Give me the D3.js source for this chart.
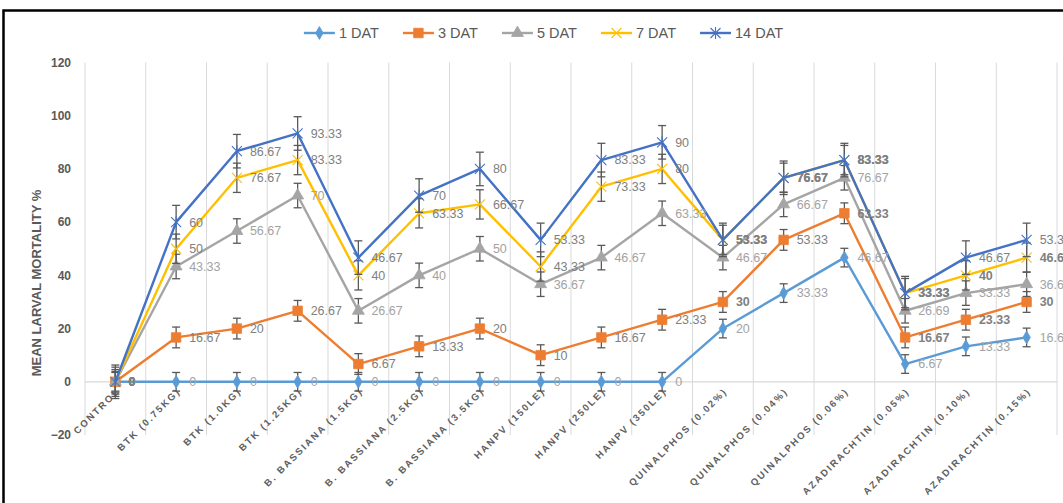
<!DOCTYPE html>
<html>
<head>
<meta charset="utf-8">
<script src="https://cdn.jsdelivr.net/npm/d3@7"></script>
<style>
  html, body { margin: 0; padding: 0; background: #fff; }
  svg { display: block; font-family: "Liberation Sans", Arial, sans-serif; }
</style>
</head>
<body>
<svg id="chart" width="1063" height="503"></svg>
<script>
// Treatments on the x axis
const categories = [
  "CONTROL", "BTK (0.75KG)", "BTK (1.0KG)", "BTK (1.25KG)",
  "B. BASSIANA (1.5KG)", "B. BASSIANA (2.5KG)", "B. BASSIANA (3.5KG)",
  "HANPV (150LE)", "HANPV (250LE)", "HANPV (350LE)",
  "QUINALPHOS (0.02%)", "QUINALPHOS (0.04%)", "QUINALPHOS (0.06%)",
  "AZADIRACHTIN (0.05%)", "AZADIRACHTIN (0.10%)", "AZADIRACHTIN (0.15%)"
];

// Mean larval mortality (%) per days after treatment
const seriesNames = ["1 DAT", "3 DAT", "5 DAT", "7 DAT", "14 DAT"];
const dat1  = [0, 0, 0, 0, 0, 0, 0, 0, 0, 0, 20, 33.33, 46.67, 6.67, 13.33, 16.67];
const dat3  = [0, 16.67, 20, 26.67, 6.67, 13.33, 20, 10, 16.67, 23.33, 30, 53.33, 63.33, 16.67, 23.33, 30];
const dat5  = [0, 43.33, 56.67, 70, 26.67, 40, 50, 36.67, 46.67, 63.33, 46.67, 66.67, 76.67, 26.69, 33.33, 36.67];
const dat7  = [0, 50, 76.67, 83.33, 40, 63.33, 66.67, 43.33, 73.33, 80, 53.33, 76.67, 83.33, 33.33, 40, 46.67];
const dat14 = [0, 60, 86.67, 93.33, 46.67, 70, 80, 53.33, 83.33, 90, 53.33, 76.67, 83.33, 33.33, 46.67, 53.33];

// Standard error used for the error bars of each series
const stdErrors = [3.5, 3.9, 4.6, 5.5, 6.3];

// Y axis ticks
const yTicks = [-20, 0, 20, 40, 60, 80, 100, 120];

// ---- styling ----
const colors = ["#5B9BD5", "#ED7D31", "#A5A5A5", "#FFC000", "#4472C4"];
const labelColors = ["#a3a3a3", "#808080", "#a3a3a3", "#808080", "#808080"];
const markerTypes = ["diamond", "square", "triangle", "x", "star"];
// labels rendered in bold (series index -> category indices)
const boldLabels = [
  [0],
  [0, 10, 12, 13, 14, 15],
  [0],
  [0, 10, 11, 12, 13, 14, 15],
  [0, 10, 11, 12, 13]
];

const values = [dat1, dat3, dat5, dat7, dat14];
const series = seriesNames.map((name, i) => ({
  name, values: values[i], err: stdErrors[i],
  color: colors[i], labelColor: labelColors[i], marker: markerTypes[i],
  bold: new Set(boldLabels[i])
}));

const svg = d3.select("#chart");

// chart frame
svg.append("rect")
  .attr("x", 3.5).attr("y", 10.5)
  .attr("width", 1200).attr("height", 700)
  .attr("fill", "none").attr("stroke", "#000").attr("stroke-width", 2.5);

const plot = { left: 85, right: 1057, top: 62.5, bottom: 435 };

const x = d3.scaleBand()
  .domain(categories)
  .range([plot.left, plot.right])
  .paddingInner(0).paddingOuter(0);

const y = d3.scaleLinear()
  .domain([-20, 120])
  .range([plot.bottom, plot.top]);

const cx = c => x(c) + x.bandwidth() / 2;

// vertical gridlines between categories
const gridX = categories.map(c => x(c)).concat([plot.right]);
svg.append("g")
  .selectAll("line")
  .data(gridX)
  .join("line")
  .attr("x1", d => d).attr("x2", d => d)
  .attr("y1", y(120)).attr("y2", y(-20))
  .attr("stroke", "#d9d9d9").attr("stroke-width", 1);

// zero baseline
svg.append("line")
  .attr("x1", plot.left).attr("x2", plot.right)
  .attr("y1", y(0)).attr("y2", y(0))
  .attr("stroke", "#d9d9d9").attr("stroke-width", 1.2);

// y axis labels
const yAxis = d3.axisLeft(y).tickValues(yTicks).tickSize(0).tickPadding(0);
const yg = svg.append("g")
  .attr("transform", `translate(71,0)`)
  .call(yAxis);
yg.select(".domain").remove();
yg.selectAll("text")
  .attr("font-family", "Liberation Sans, Arial, sans-serif")
  .attr("font-size", 12).attr("font-weight", "bold")
  .attr("fill", "#595959");

// y axis title
svg.append("text")
  .attr("transform", `translate(41,283) rotate(-90)`)
  .attr("text-anchor", "middle")
  .attr("font-size", 13).attr("font-weight", "bold")
  .attr("fill", "#595959")
  .text("MEAN LARVAL MORTALITY %");

// x category labels, rotated
const xAxis = d3.axisBottom(x).tickSize(0).tickPadding(0);
const xg = svg.append("g")
  .attr("transform", `translate(0,${y(0)})`)
  .call(xAxis);
xg.select(".domain").remove();
xg.selectAll("text")
  .attr("font-family", "Liberation Sans, Arial, sans-serif")
  .attr("font-size", 9.6).attr("font-weight", "bold")
  .attr("letter-spacing", "1.9px")
  .attr("fill", "#606060")
  .attr("text-anchor", "end")
  .attr("dy", 0)
  .attr("transform", "translate(5,10) rotate(-45)");

// marker shapes
function markerPath(type) {
  switch (type) {
    case "diamond": return d3.symbol(d3.symbolDiamond, 48)();
    case "square": return d3.symbol(d3.symbolSquare, 90)();
    case "triangle": return d3.symbol(d3.symbolTriangle, 62)();
    case "x": return "M-5,-5L5,5M-5,5L5,-5";
    case "star": return "M-5,-5L5,5M-5,5L5,-5M0,-6L0,6";
  }
}
function drawMarker(g, s) {
  const filled = s.marker === "diamond" || s.marker === "square" || s.marker === "triangle";
  g.append("path")
    .attr("d", markerPath(s.marker))
    .attr("fill", filled ? s.color : "none")
    .attr("stroke", s.color)
    .attr("stroke-width", filled ? 0.8 : 1.1);
}

const line = d3.line()
  .x((d, i) => cx(categories[i]))
  .y(d => y(d));

const seriesG = svg.append("g");
series.forEach(s => {
  const g = seriesG.append("g");
  // connecting line
  g.append("path")
    .datum(s.values)
    .attr("d", line)
    .attr("fill", "none")
    .attr("stroke", s.color)
    .attr("stroke-width", 2.4)
    .attr("stroke-linejoin", "round");

  // error bars
  const eb = g.append("g")
    .attr("stroke", "#595959").attr("stroke-width", 1.3);
  s.values.forEach((v, i) => {
    const px = cx(categories[i]);
    const y1 = y(v - s.err), y2 = y(v + s.err);
    eb.append("line").attr("x1", px).attr("x2", px).attr("y1", y1).attr("y2", y2);
    eb.append("line").attr("x1", px - 4).attr("x2", px + 4).attr("y1", y1).attr("y2", y1);
    eb.append("line").attr("x1", px - 4).attr("x2", px + 4).attr("y1", y2).attr("y2", y2);
  });

  // markers
  s.values.forEach((v, i) => {
    const mg = g.append("g")
      .attr("transform", `translate(${cx(categories[i])},${y(v)})`);
    drawMarker(mg, s);
  });
});

// data labels
const labelsG = svg.append("g");
series.forEach(s => {
  s.values.forEach((v, i) => {
    labelsG.append("text")
      .attr("x", cx(categories[i]) + 13)
      .attr("y", y(v))
      .attr("dy", "0.35em")
      .attr("font-size", 12.5)
      .attr("font-weight", s.bold.has(i) ? "bold" : "normal")
      .attr("fill", s.labelColor)
      .text(d3.format("~g")(v));
  });
});

// legend
const legend = svg.append("g").attr("transform", "translate(0,33)");
let lx = 0;
series.forEach(s => {
  const ig = legend.append("g");
  ig.append("line")
    .attr("x1", 0).attr("x2", 31).attr("y1", 0).attr("y2", 0)
    .attr("stroke", s.color).attr("stroke-width", 2.4);
  const mg = ig.append("g").attr("transform", "translate(15.5,0)");
  drawMarker(mg, s);
  const t = ig.append("text")
    .attr("x", 35).attr("y", 0).attr("dy", "0.36em")
    .attr("font-size", 14.5).attr("fill", "#595959")
    .text(s.name);
  const w = 35 + t.node().getComputedTextLength();
  ig.attr("transform", `translate(${lx},0)`);
  lx += w + 24;
});
const legendWidth = lx - 24;
legend.attr("transform", `translate(${543.5 - legendWidth / 2},33)`);
</script>
</body>
</html>
